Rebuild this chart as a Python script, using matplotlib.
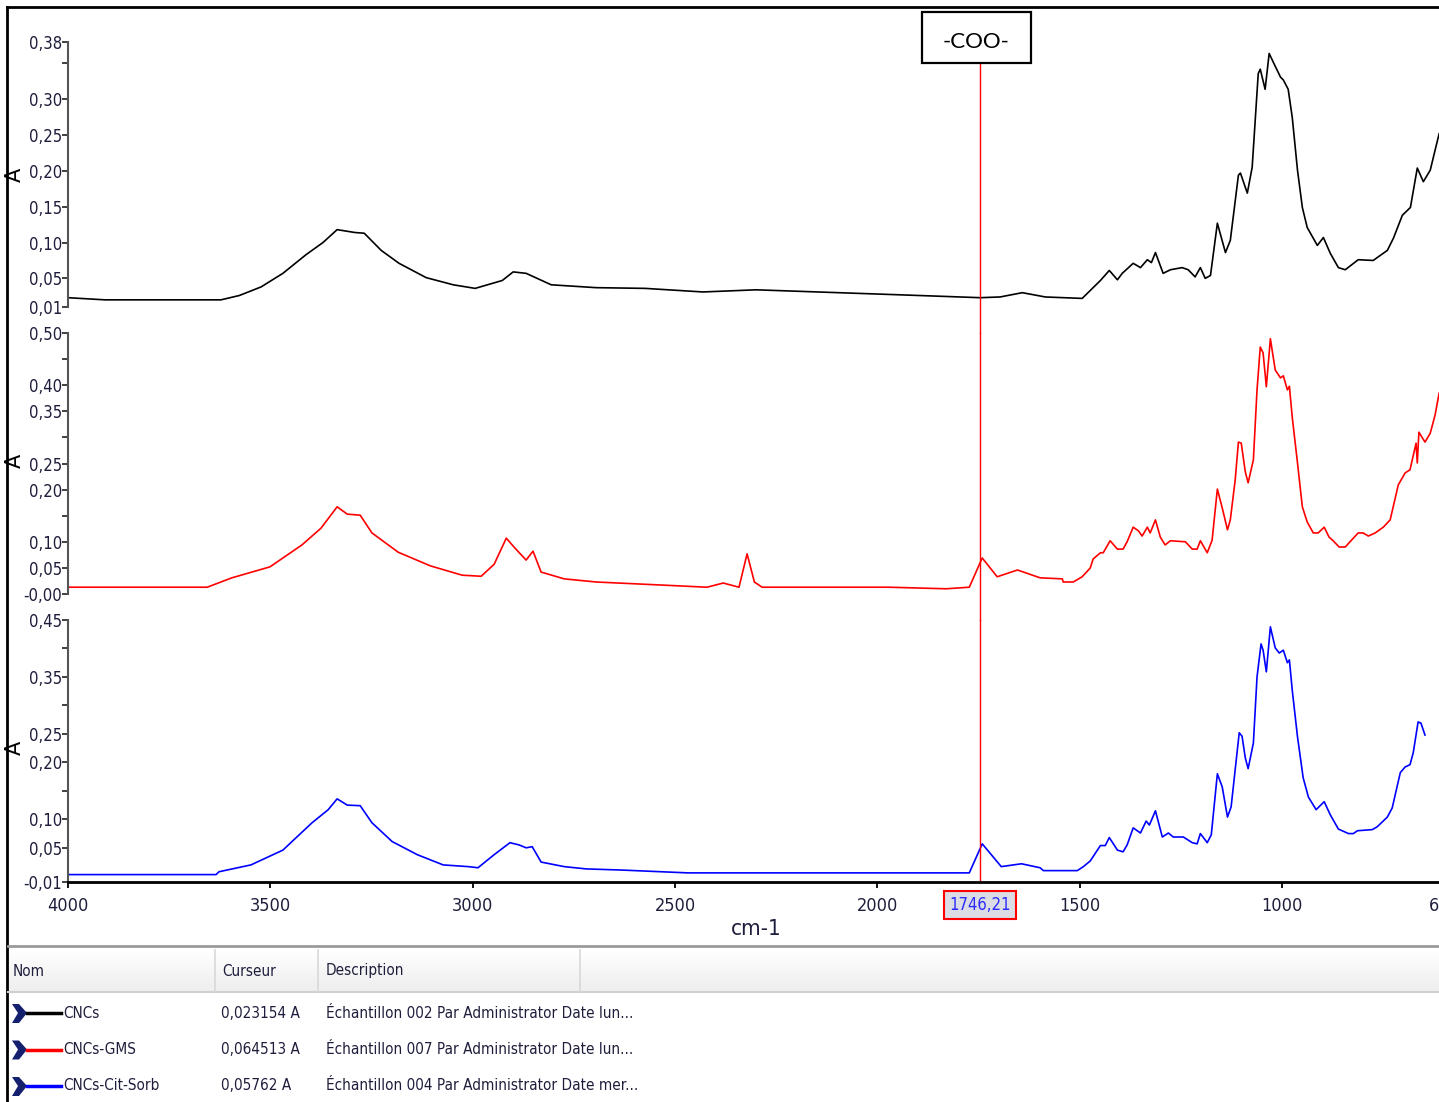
import numpy as np
import matplotlib.pyplot as plt
from matplotlib.patches import Rectangle, Polygon
from matplotlib.lines import Line2D
import matplotlib.transforms as mtransforms

# --- spectra (wavenumber cm-1, absorbance A) ---
black_wn = [4000, 3909, 3622, 3577, 3523, 3469, 3412, 3370, 3335, 3291, 3268, 3226, 3182,
            3115, 3048, 2994, 2927, 2900, 2868, 2806, 2695, 2574, 2431, 2300, 1944, 1746,
            1697, 1642, 1585, 1494, 1449, 1427, 1407, 1395, 1368, 1350, 1333, 1323, 1313,
            1294, 1276, 1247, 1232, 1215, 1202, 1190, 1177, 1160, 1140, 1128, 1108, 1103,
            1086, 1074, 1059, 1054, 1042, 1032, 1022, 1004, 997, 985, 975, 962, 950, 938,
            913, 898, 881, 861, 844, 812, 775, 740, 725, 703, 683, 666, 651, 634, 622, 612]
black_a = [0.023, 0.020, 0.020, 0.026, 0.038, 0.057, 0.083, 0.100, 0.118, 0.114, 0.113, 0.089, 0.071,
           0.051, 0.041, 0.036, 0.047, 0.059, 0.057, 0.041, 0.037, 0.036, 0.031, 0.034, 0.027, 0.023,
           0.024, 0.030, 0.024, 0.022, 0.047, 0.061, 0.048, 0.057, 0.071, 0.065, 0.076, 0.072, 0.086,
           0.057, 0.062, 0.065, 0.062, 0.052, 0.065, 0.050, 0.054, 0.127, 0.086, 0.103, 0.194, 0.197,
           0.169, 0.205, 0.336, 0.342, 0.314, 0.364, 0.352, 0.331, 0.327, 0.314, 0.275, 0.201, 0.149, 0.121,
           0.096, 0.107, 0.085, 0.065, 0.062, 0.076, 0.075, 0.089, 0.106, 0.138, 0.149, 0.204, 0.185, 0.201,
           0.229, 0.252]

red_wn = [4000, 3656, 3595, 3501, 3422, 3375, 3335, 3310, 3278, 3249, 3184, 3105, 3026, 2979,
          2947, 2917, 2898, 2868, 2851, 2831, 2774, 2695, 2529, 2421, 2381, 2342, 2322, 2304,
          2285, 1971, 1830, 1773, 1741, 1704, 1654, 1598, 1543, 1541, 1516, 1494, 1474, 1467,
          1449, 1442, 1425, 1407, 1393, 1383, 1368, 1355, 1346, 1333, 1326, 1313, 1301, 1289,
          1276, 1239, 1222, 1210, 1202, 1185, 1173, 1160, 1148, 1135, 1128, 1116, 1108, 1101,
          1091, 1084, 1071, 1062, 1054, 1047, 1039, 1029, 1017, 1004, 997, 987, 982, 975, 962,
          950, 938, 923, 911, 896, 884, 874, 859, 844, 824, 812, 800, 787, 770, 750, 733, 713,
          696, 684, 674, 669, 666, 662, 647, 634, 622, 612]
red_a = [0.013, 0.013, 0.031, 0.052, 0.094, 0.126, 0.167, 0.153, 0.151, 0.117, 0.080, 0.054, 0.036, 0.034,
         0.057, 0.107, 0.090, 0.065, 0.082, 0.042, 0.029, 0.023, 0.017, 0.013, 0.021, 0.013, 0.077, 0.023,
         0.013, 0.013, 0.010, 0.013, 0.069, 0.033, 0.046, 0.031, 0.029, 0.023, 0.023, 0.033, 0.050, 0.067,
         0.079, 0.079, 0.102, 0.086, 0.086, 0.100, 0.128, 0.121, 0.111, 0.128, 0.117, 0.142, 0.109, 0.094,
         0.102, 0.100, 0.086, 0.086, 0.102, 0.079, 0.103, 0.201, 0.165, 0.123, 0.142, 0.218, 0.291, 0.289,
         0.234, 0.213, 0.257, 0.391, 0.473, 0.462, 0.397, 0.489, 0.429, 0.414, 0.418, 0.391, 0.398, 0.339, 0.251,
         0.167, 0.138, 0.117, 0.117, 0.128, 0.109, 0.102, 0.090, 0.090, 0.107, 0.117, 0.117, 0.111, 0.117, 0.128,
         0.142, 0.209, 0.232, 0.238, 0.272, 0.289, 0.251, 0.310, 0.291, 0.308, 0.343, 0.385]

blue_wn = [4000, 3634, 3627, 3548, 3469, 3397, 3357, 3335, 3310, 3278, 3249, 3199, 3137, 3073,
           3011, 2987, 2947, 2908, 2885, 2868, 2853, 2831, 2774, 2720, 2633, 2468, 1773, 1741,
           1694, 1644, 1598, 1590, 1506, 1491, 1474, 1449, 1437, 1427, 1407, 1393, 1383, 1368,
           1350, 1336, 1328, 1313, 1296, 1281, 1269, 1244, 1222, 1210, 1202, 1185, 1175, 1160,
           1148, 1135, 1126, 1116, 1106, 1099, 1091, 1084, 1071, 1062, 1052, 1047, 1039, 1029,
           1017, 1007, 997, 987, 982, 975, 962, 948, 935, 916, 896, 881, 861, 836, 824, 814, 777,
           765, 740, 728, 708, 696, 684, 676, 664, 657, 647]
blue_a = [0.003, 0.003, 0.008, 0.020, 0.046, 0.094, 0.117, 0.136, 0.125, 0.124, 0.094, 0.061, 0.038, 0.020,
          0.017, 0.015, 0.038, 0.059, 0.055, 0.050, 0.052, 0.025, 0.017, 0.013, 0.011, 0.006, 0.006, 0.057,
          0.017, 0.022, 0.015, 0.010, 0.010, 0.017, 0.027, 0.054, 0.054, 0.068, 0.046, 0.043, 0.055, 0.085,
          0.076, 0.097, 0.090, 0.115, 0.069, 0.076, 0.069, 0.069, 0.059, 0.057, 0.075, 0.059, 0.073, 0.180,
          0.157, 0.104, 0.122, 0.187, 0.252, 0.246, 0.208, 0.189, 0.234, 0.350, 0.408, 0.397, 0.359, 0.438,
          0.401, 0.392, 0.397, 0.375, 0.380, 0.327, 0.245, 0.173, 0.139, 0.117, 0.131, 0.108, 0.083, 0.075,
          0.075, 0.080, 0.082, 0.087, 0.104, 0.120, 0.182, 0.192, 0.196, 0.217, 0.271, 0.269, 0.248]

# y ticks of each panel (blank label = unlabelled tick, as on screen)
top_ticks = [0.01, 0.05, 0.10, 0.15, 0.20, 0.25, 0.30, 0.35, 0.38]
top_labels = ['0,01', '0,05', '0,10', '0,15', '0,20', '0,25', '0,30', '', '0,38']
mid_ticks = [0.00, 0.05, 0.10, 0.15, 0.20, 0.25, 0.30, 0.35, 0.40, 0.45, 0.50]
mid_labels = ['-0,00', '0,05', '0,10', '', '0,20', '0,25', '', '0,35', '0,40', '', '0,50']
bot_ticks = [-0.01, 0.05, 0.10, 0.15, 0.20, 0.25, 0.30, 0.35, 0.40, 0.45]
bot_labels = ['-0,01', '0,05', '0,10', '', '0,20', '0,25', '', '0,35', '', '0,45']
x_ticks = [4000, 3500, 3000, 2500, 2000, 1500, 1000, 600]

cursor_wn = 1746.21
names = ['CNCs', 'CNCs-GMS', 'CNCs-Cit-Sorb']
colors = ['black', '#ff0000', '#0000ff']
cursor_vals = [0.023154, 0.064513, 0.05762]
descriptions = ['Échantillon 002 Par Administrator Date lun...',
                'Échantillon 007 Par Administrator Date lun...',
                'Échantillon 004 Par Administrator Date mer...']

W, H = 1439, 1102
NARROW = dict(family='DejaVu Sans', fontstretch='condensed')
TXT = '#1e1e3c'


def fx(px):
    return px / W


def fy(py):
    return 1 - py / H


fig = plt.figure(figsize=(W / 100, H / 100), dpi=100)
fig.patch.set_facecolor('white')

# axes px extents: left 68, right 1444 (600 cm-1 falls just off the screen)
left, right = 68, 1444
panels = [
    (black_wn, black_a, colors[0], (42, 307), (0.01, 0.38), top_ticks, top_labels, 175),
    (red_wn, red_a, colors[1], (333, 594), (0.00, 0.50), mid_ticks, mid_labels, 461),
    (blue_wn, blue_a, colors[2], (620, 882), (-0.01, 0.45), bot_ticks, bot_labels, 748),
]
axes = []
for wn, a, c, (ytop, ybot), ylim, ticks, labels, ylab_y in panels:
    ax = fig.add_axes([fx(left), fy(ybot), (right - left) / W, (ybot - ytop) / H])
    ax.plot(wn, a, color=c, lw=1.2)
    ax.set_xlim(4000, 600)
    ax.set_ylim(*ylim)
    ax.set_facecolor('none')
    for s in ['top', 'right', 'bottom']:
        ax.spines[s].set_visible(False)
    ax.spines['left'].set_color('#555555')
    ax.spines['left'].set_linewidth(1.5)
    ax.set_yticks(ticks)
    ax.set_yticklabels(labels, fontsize=12, color=TXT, **NARROW)
    ax.tick_params(axis='y', direction='out', length=4, width=1.3, color='#333333', pad=0)
    ax.set_xticks([])
    fig.text(fx(15), fy(ylab_y), 'A', rotation=90, ha='center', va='center',
             fontsize=15, family='DejaVu Sans')
    axes.append(ax)

ax_top, ax_mid, ax_bot = axes
ax_bot.spines['bottom'].set_visible(True)
ax_bot.spines['bottom'].set_linewidth(2)
ax_bot.set_xticks(x_ticks)
ax_bot.set_xticklabels([str(t) for t in x_ticks], fontsize=13, color=TXT, **NARROW)
ax_bot.tick_params(axis='x', direction='out', length=4, width=1.3, pad=7)
ax_bot.set_xlabel('cm-1', fontsize=16, color=TXT, labelpad=3, **NARROW)

# cursor line through all three panels
ax_top.axvline(cursor_wn, ymin=-0.098, ymax=(307 - 63) / (307 - 42), color='red', lw=1, clip_on=False)
ax_mid.axvline(cursor_wn, ymin=-0.1, ymax=1, color='red', lw=1, clip_on=False)
ax_bot.axvline(cursor_wn, ymin=0, ymax=1, color='red', lw=1, clip_on=False)

trans = mtransforms.blended_transform_factory(ax_bot.transData, ax_bot.transAxes)
ax_bot.text(cursor_wn, -0.088, f'{cursor_wn:.2f}'.replace('.', ','), transform=trans,
            ha='center', va='center', fontsize=12, color='#2a2aff', **NARROW,
            bbox=dict(boxstyle='square,pad=0.3', facecolor='#dcdce4', edgecolor='red', lw=1.5))

# "-COO-" label box
fig.add_artist(Rectangle((fx(922), fy(63)), fx(1031) - fx(922), fy(12) - fy(63),
                         transform=fig.transFigure, facecolor='white', edgecolor='black', lw=1.6))
fig.text(fx(976), fy(42), '-COO-', ha='center', va='center', fontsize=16, family='Lato', color='black')

# screenshot frame
fig.add_artist(Line2D([fx(7), 1], [fy(7), fy(7)], color='black', lw=2))
fig.add_artist(Line2D([fx(7), fx(7)], [0, fy(7)], color='black', lw=2))

# --- list panel below the spectra ---
fig.add_artist(Line2D([fx(8), 1], [fy(946), fy(946)], color='#9a9a9a', lw=2))
hdr = fig.add_axes([fx(9), fy(992), 1 - fx(9), (992 - 949) / H])
hdr.imshow(np.linspace(1.0, 0.93, 20).reshape(-1, 1), cmap='gray', vmin=0, vmax=1,
           aspect='auto', extent=[0, 1, 0, 1])
hdr.axis('off')
fig.add_artist(Line2D([fx(8), 1], [fy(992), fy(992)], color='#d0d0d0', lw=1.5))
for px in [215, 318, 580]:
    fig.add_artist(Line2D([fx(px), fx(px)], [fy(992), fy(950)], color='#d8d8d8', lw=1.2))
for px, label in [(13, 'Nom'), (222, 'Curseur'), (326, 'Description')]:
    fig.text(fx(px), fy(971), label, ha='left', va='center', fontsize=11, color=TXT, **NARROW)

for i, (name, c, val, desc) in enumerate(zip(names, colors, cursor_vals, descriptions)):
    py = 1013 + i * 36.5
    chev = [(12, py - 9), (19, py - 9), (27, py), (19, py + 10), (12, py + 10), (18, py)]
    fig.add_artist(Polygon([(fx(x), fy(y)) for x, y in chev], closed=True,
                           transform=fig.transFigure, facecolor='#14206e', edgecolor='none'))
    fig.add_artist(Line2D([fx(27), fx(61)], [fy(py), fy(py)], color=c, lw=2.5))
    fig.text(fx(63), fy(py), name, ha='left', va='center', fontsize=11, color=TXT, **NARROW)
    fig.text(fx(221), fy(py), f'{val:g}'.replace('.', ',') + ' A', ha='left', va='center',
             fontsize=11, color=TXT, **NARROW)
    fig.text(fx(326), fy(py), desc, ha='left', va='center', fontsize=11, color=TXT, **NARROW)

fig.savefig('out.png', dpi=100)
